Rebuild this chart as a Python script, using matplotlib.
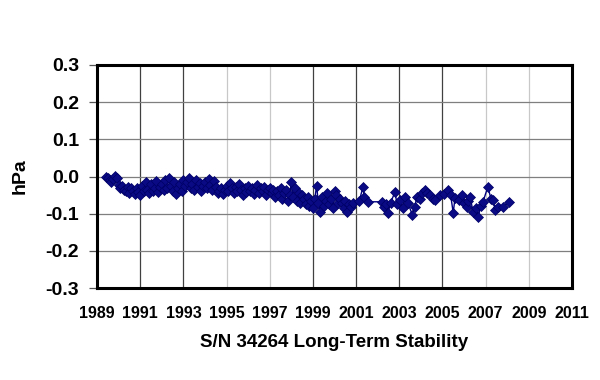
import numpy as np
import matplotlib.pyplot as plt

plt.rcParams['font.family'] = ['Liberation Sans', 'DejaVu Sans']

# monthly readings 1989.42 .. 2000.9 (dense part of the record)
dense_start = 1989.42
dense_vals = [
    0.000, -0.004, -0.010, -0.016, -0.008, 0.002, -0.004,
    -0.022, -0.030, -0.025, -0.035, -0.040, -0.028, -0.045, -0.032, -0.038, -0.048, -0.030, -0.042,
    -0.050, -0.025, -0.040, -0.015, -0.035, -0.045, -0.020, -0.038, -0.030, -0.012, -0.042, -0.028,
    -0.020, -0.035, -0.010, -0.030, -0.005, -0.025, -0.040, -0.015, -0.048, -0.030, -0.020, -0.038,
    -0.010, -0.025, -0.015, -0.005, -0.030, -0.020, -0.035, -0.010, -0.028, -0.018, -0.040, -0.025,
    -0.015, -0.030, -0.008, -0.022, -0.035, -0.012, -0.028, -0.045, -0.040, -0.030, -0.048, -0.035,
    -0.025, -0.040, -0.018, -0.032, -0.045, -0.028, -0.038, -0.020, -0.035, -0.050, -0.030, -0.042,
    -0.025, -0.040, -0.030, -0.048, -0.035, -0.022, -0.045, -0.030, -0.038, -0.028, -0.050, -0.036,
    -0.030, -0.045, -0.035, -0.055, -0.040, -0.050, -0.030, -0.060, -0.045, -0.035, -0.065, -0.050,
    -0.015, -0.055, -0.030, -0.065, -0.045, -0.070, -0.050, -0.060, -0.075, -0.055, -0.080, -0.065,
    -0.085, -0.060, -0.025, -0.070, -0.095, -0.055, -0.080, -0.065, -0.045, -0.075, -0.060, -0.085,
    -0.039, -0.050, -0.070, -0.060, -0.071, -0.085, -0.065, -0.095, -0.075, -0.082, -0.070,
]
dense_years = dense_start + np.arange(len(dense_vals)) / 12.0

# sparser readings 2001 .. 2008
late_years = [2001.15, 2001.32, 2001.38, 2001.55, 2002.2, 2002.3, 2002.4, 2002.48, 2002.6,
              2002.8, 2002.9, 2003.03, 2003.15, 2003.27, 2003.4, 2003.6, 2003.73, 2003.8,
              2003.95, 2004.05, 2004.2, 2004.3, 2004.42, 2004.55, 2004.65, 2004.9, 2005.05,
              2005.26, 2005.38, 2005.5, 2005.58, 2005.75, 2005.9, 2006.02, 2006.14, 2006.2,
              2006.28, 2006.42, 2006.55, 2006.65, 2006.78, 2006.88, 2007.1, 2007.25,
              2007.34, 2007.45, 2007.57, 2007.8, 2008.1]
late_vals = [-0.065, -0.028, -0.055, -0.068, -0.068, -0.082, -0.075, -0.098, -0.070,
             -0.042, -0.075, -0.063, -0.085, -0.055, -0.070, -0.103, -0.082, -0.055,
             -0.060, -0.045, -0.036, -0.045, -0.050, -0.060, -0.063, -0.050, -0.048,
             -0.036, -0.050, -0.098, -0.058, -0.062, -0.050, -0.070, -0.082, -0.065,
             -0.055, -0.095, -0.085, -0.109, -0.080, -0.068, -0.028, -0.060,
             -0.063, -0.090, -0.082, -0.082, -0.068]

years = np.concatenate([dense_years, late_years])
vals = np.concatenate([dense_vals, late_vals])

x_ticks = list(range(1989, 2012, 2))
y_ticks = [-0.3, -0.2, -0.1, 0.0, 0.1, 0.2, 0.3]

fig = plt.figure(figsize=(6, 3.8), dpi=100)
ax = fig.add_axes([0.1617, 0.242, 0.7916, 0.587])

# grid: horizontal gray, vertical alternating dark / light
ax.set_axisbelow(True)
ax.grid(axis='y', color='#7f7f7f', lw=0.9)
dark = {1991, 1993, 1999, 2001, 2003, 2005}
for yr in x_ticks[1:-1]:
    ax.axvline(yr, color='#404040' if yr in dark else '#c8c8c8', lw=0.9, zorder=0.5)

ax.plot(years, vals, color='#000080', lw=1, marker='D', ms=5,
        mfc='#0a0a84', mec='#000066', mew=0.5)

ax.set_xlim(1989, 2011)
ax.set_ylim(-0.3, 0.3)
ax.set_xticks(x_ticks)
ax.set_yticks(y_ticks)
ax.set_yticklabels(['%.1f' % v for v in y_ticks], fontsize=14, fontweight='bold')
ax.set_xticklabels([str(v) for v in x_ticks], fontsize=11.5, fontweight='bold')
ax.tick_params(axis='x', length=0, pad=13)
ax.tick_params(axis='y', length=6, pad=7, color='#555555', width=0.9)

for s in ax.spines.values():
    s.set_linewidth(2.2)
    s.set_color('black')

ax.set_xlabel('S/N 34264 Long-Term Stability', fontsize=13.5, fontweight='bold', labelpad=9)
ax.set_ylabel('hPa', fontsize=14, fontweight='bold', labelpad=12)

plt.savefig('out.png', dpi=100, facecolor='white')
